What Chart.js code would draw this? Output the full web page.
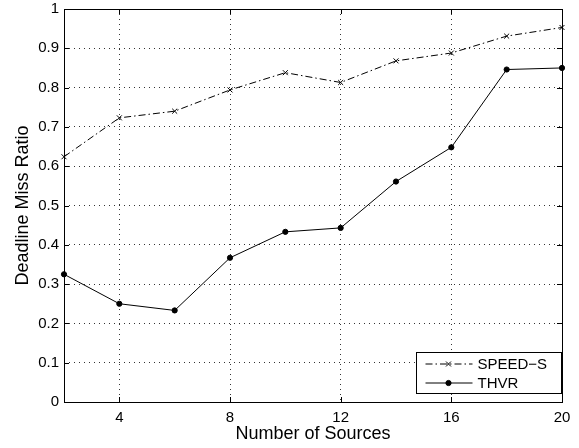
<!DOCTYPE html>
<html>
<head>
<meta charset="utf-8">
<script src="https://cdn.jsdelivr.net/npm/chart.js@4"></script>
<style>
  html, body { margin: 0; padding: 0; background: #fff; }
  #wrap { width: 579px; height: 448px; }
</style>
</head>
<body>
<div id="wrap"><canvas id="missChart" width="579" height="448"></canvas></div>
<script>
// values
const sources = [2, 4, 6, 8, 10, 12, 14, 16, 18, 20];
const speedS = [0.624, 0.723, 0.740, 0.794, 0.838, 0.813, 0.868, 0.888, 0.931, 0.953];
const thvr = [0.325, 0.250, 0.233, 0.367, 0.433, 0.443, 0.561, 0.648, 0.846, 0.850];
const xTicks = [4, 8, 12, 16, 20];
const yTicks = [0, 0.1, 0.2, 0.3, 0.4, 0.5, 0.6, 0.7, 0.8, 0.9, 1];

const FONT = "'Liberation Sans', Arial, Helvetica, sans-serif";

function toPoints(xs, ys) {
  return xs.map((x, i) => ({ x: x, y: ys[i] }));
}

// box round the axes, inward tick marks and the legend, like matlab draws them
const framePlugin = {
  id: "frame",
  afterDatasetsDraw(chart) {
    const { ctx, chartArea: a, scales } = chart;
    ctx.save();
    ctx.strokeStyle = "#000";
    ctx.lineWidth = 1;
    ctx.setLineDash([]);
    const tl = 5;
    ctx.beginPath();
    xTicks.forEach(v => {
      const px = Math.round(scales.x.getPixelForValue(v)) + 0.5;
      ctx.moveTo(px, a.bottom); ctx.lineTo(px, a.bottom - tl);
      ctx.moveTo(px, a.top); ctx.lineTo(px, a.top + tl);
    });
    yTicks.forEach(v => {
      const py = Math.round(scales.y.getPixelForValue(v)) + 0.5;
      ctx.moveTo(a.left, py); ctx.lineTo(a.left + tl, py);
      ctx.moveTo(a.right, py); ctx.lineTo(a.right - tl, py);
    });
    ctx.stroke();
    ctx.strokeRect(Math.round(a.left) + 0.5, Math.round(a.top) + 0.5,
      Math.round(a.right - a.left), Math.round(a.bottom - a.top));

    // legend
    const w = 145, h = 41;
    const lx = Math.round(a.right) - w - 1 + 0.5, ly = Math.round(a.bottom) - h - 9 + 0.5;
    ctx.fillStyle = "#fff";
    ctx.fillRect(lx, ly, w, h);
    ctx.strokeRect(lx, ly, w, h);
    ctx.font = "15px " + FONT;
    ctx.textBaseline = "middle";
    chart.data.datasets.forEach((ds, i) => {
      const cy = ly + 11.5 + i * 19;
      ctx.strokeStyle = ds.borderColor;
      ctx.lineWidth = ds.borderWidth;
      ctx.setLineDash(ds.borderDash || []);
      ctx.beginPath();
      ctx.moveTo(lx + 9, cy); ctx.lineTo(lx + 56, cy);
      ctx.stroke();
      ctx.setLineDash([]);
      ctx.fillStyle = ds.pointBackgroundColor;
      ctx.strokeStyle = ds.pointBorderColor;
      ctx.lineWidth = 1;
      Chart.helpers.drawPoint(ctx, {
        pointStyle: ds.pointStyle, radius: ds.pointRadius, borderWidth: 1, rotation: 0
      }, lx + 32, cy);
      ctx.fillStyle = "#000";
      ctx.fillText(ds.label, lx + 61, cy + 1);
    });
    ctx.restore();
  }
};

const ctx = document.getElementById("missChart").getContext("2d");
new Chart(ctx, {
  type: "line",
  data: {
    datasets: [
      {
        label: "SPEED\u2212S",
        data: toPoints(sources, speedS),
        borderColor: "#000",
        borderWidth: 1,
        borderDash: [7, 3, 1.5, 3],
        pointStyle: "crossRot",
        pointRadius: 3.5,
        pointBorderWidth: 1,
        pointBorderColor: "#000",
        pointBackgroundColor: "#000",
        fill: false,
        clip: false
      },
      {
        label: "THVR",
        data: toPoints(sources, thvr),
        borderColor: "#000",
        borderWidth: 1,
        pointStyle: "circle",
        pointRadius: 2.6,
        pointBorderWidth: 1,
        pointBorderColor: "#000",
        pointBackgroundColor: "#000",
        fill: false,
        clip: false
      }
    ]
  },
  options: {
    responsive: false,
    animation: false,
    devicePixelRatio: 1,
    layout: { padding: { left: 0, right: 17, top: 0, bottom: 0 } },
    plugins: { legend: { display: false }, tooltip: { enabled: false } },
    scales: {
      x: {
        type: "linear",
        min: 2,
        max: 20,
        afterBuildTicks: s => { s.ticks = xTicks.map(v => ({ value: v })); },
        afterFit: s => { s.height = 46; s.paddingLeft = 0; s.paddingRight = 0; },
        ticks: { color: "#000", font: { family: FONT, size: 15 }, padding: 7, maxRotation: 0 },
        grid: { color: "#000", lineWidth: 0.8, drawTicks: false },
        border: { display: false, dash: [1, 4] },
        title: {
          display: true, text: "Number of Sources", color: "#000",
          font: { family: FONT, size: 18 }, padding: { top: 0, bottom: 3 }
        }
      },
      y: {
        min: 0,
        max: 1,
        afterBuildTicks: s => { s.ticks = yTicks.map(v => ({ value: v })); },
        afterFit: s => { s.width = 64; s.paddingTop = 9; s.paddingBottom = 0; },
        ticks: { color: "#000", font: { family: FONT, size: 15 }, padding: 5, callback: v => String(v) },
        grid: { color: "#000", lineWidth: 0.8, drawTicks: false },
        border: { display: false, dash: [1, 4] },
        title: {
          display: true, text: "Deadline Miss Ratio", color: "#000",
          font: { family: FONT, size: 18 }, padding: { top: 12, bottom: 0 }
        }
      }
    }
  },
  plugins: [framePlugin]
});
</script>
</body>
</html>
